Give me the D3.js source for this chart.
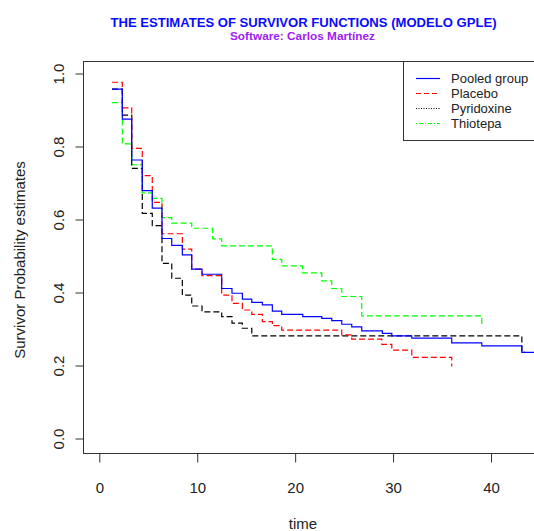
<!DOCTYPE html>
<html>
  <head>
    <script src="https://d3js.org/d3.v7.min.js"></script>
    <style type="text/css">
body {
  margin: 0;
  background: #fff;
}
svg {
  font-family: "Liberation Sans", Arial, sans-serif;
}
.axis text {
  fill: #222;
  font-size: 15px;
}
    </style>
  </head>
  <body>
    <script type="text/javascript">

var width = 534,
    height = 531;

// series (time, survivor estimate)
var pooledTime = [1.30, 2.35, 3.31, 4.39, 5.41, 6.40, 7.40, 8.48, 9.44, 10.49, 12.50, 13.55, 14.61, 15.57, 16.65, 17.67, 18.63, 20.78, 22.72, 23.74, 24.76, 25.78, 26.80, 28.91, 29.87, 31.91, 35.99, 39.06, 43.15, 44.8];
var pooledSurv = [0.957, 0.875, 0.763, 0.679, 0.631, 0.548, 0.529, 0.503, 0.464, 0.450, 0.411, 0.398, 0.382, 0.373, 0.366, 0.349, 0.340, 0.334, 0.329, 0.323, 0.313, 0.306, 0.295, 0.288, 0.281, 0.275, 0.262, 0.254, 0.236, 0.236];

var placeboTime = [1.30, 2.35, 3.31, 4.39, 5.41, 6.40, 8.48, 9.44, 10.49, 12.50, 13.55, 14.61, 15.57, 16.65, 17.67, 18.63, 24.76, 25.78, 28.85, 29.87, 31.91, 35.99];
var placeboSurv = [0.976, 0.906, 0.795, 0.720, 0.647, 0.561, 0.519, 0.464, 0.446, 0.393, 0.370, 0.352, 0.340, 0.320, 0.309, 0.297, 0.284, 0.272, 0.258, 0.242, 0.222, 0.197];

var pyridoxineTime = [1.30, 2.35, 3.31, 4.39, 5.41, 6.40, 7.40, 8.48, 9.44, 10.49, 12.50, 13.55, 14.61, 15.57, 43.15, 43.5];
var pyridoxineSurv = [0.957, 0.886, 0.740, 0.617, 0.583, 0.480, 0.439, 0.393, 0.363, 0.347, 0.334, 0.316, 0.302, 0.281, 0.236, 0.236];

var thiotepaTime = [1.30, 2.35, 3.31, 4.39, 5.41, 6.40, 7.40, 9.44, 11.58, 12.50, 17.67, 18.63, 20.74, 22.72, 23.74, 24.76, 26.80, 39.06];
var thiotepaSurv = [0.920, 0.807, 0.750, 0.673, 0.658, 0.605, 0.590, 0.576, 0.547, 0.528, 0.491, 0.473, 0.454, 0.432, 0.411, 0.389, 0.336, 0.308];

var groupNames = ["Pooled group", "Placebo", "Pyridoxine", "Thiotepa"];
var groupColors = ["#0000ff", "#ff0000", "#000000", "#00ff00"];
var xTicks = [0, 10, 20, 30, 40];
var yTicks = [0.0, 0.2, 0.4, 0.6, 0.8, 1.0];

var series = [
  {name: groupNames[0], color: groupColors[0], t: pooledTime, s: pooledSurv, dash: "none", legDash: "none"},
  {name: groupNames[1], color: groupColors[1], t: placeboTime, s: placeboSurv, dash: "6,3", legDash: "5,3"},
  {name: groupNames[2], color: groupColors[2], t: pyridoxineTime, s: pyridoxineSurv, dash: "6,3", legDash: "1,1.5"},
  {name: groupNames[3], color: groupColors[3], t: thiotepaTime, s: thiotepaSurv, dash: "6,3", legDash: "1,2,4,2"}
];

var box = {left: 83.5, top: 61.5, bottom: 453.5, right: 560};

var x = d3.scaleLinear().domain([0, 40]).range([99.3, 491]);
var y = d3.scaleLinear().domain([0, 1]).range([438.5, 73.5]);

var svg = d3.select("body").append("svg")
    .attr("width", width)
    .attr("height", height);

svg.append("defs").append("clipPath").attr("id", "plotclip")
  .append("rect")
    .attr("x", box.left).attr("y", box.top)
    .attr("width", box.right - box.left).attr("height", box.bottom - box.top);

// titles
svg.append("text")
    .attr("x", 303.5).attr("y", 27)
    .attr("text-anchor", "middle")
    .attr("textLength", 386).attr("lengthAdjust", "spacingAndGlyphs")
    .style("font-size", "13px").style("font-weight", "bold")
    .style("fill", "#0a0aff")
    .text("THE ESTIMATES OF SURVIVOR FUNCTIONS (MODELO GPLE)");

svg.append("text")
    .attr("x", 302.5).attr("y", 40)
    .attr("text-anchor", "middle")
    .attr("textLength", 145).attr("lengthAdjust", "spacingAndGlyphs")
    .style("font-size", "11px").style("font-weight", "bold")
    .style("fill", "#a020f0")
    .text("Software: Carlos Martínez");

// curves
var line = d3.line()
    .x(function(d) { return x(d[0]); })
    .y(function(d) { return y(d[1]); })
    .curve(d3.curveStepAfter);

var plotg = svg.append("g").attr("clip-path", "url(#plotclip)");

series.slice().reverse().forEach(function(sr) {
  var pts = sr.t.map(function(t, i) { return [t, sr.s[i]]; });
  plotg.append("path")
      .attr("d", line(pts))
      .style("fill", "none")
      .style("stroke", sr.color)
      .style("stroke-width", 1.2)
      .style("stroke-dasharray", sr.dash);
});

// box
svg.append("rect")
    .attr("x", box.left).attr("y", box.top)
    .attr("width", box.right - box.left).attr("height", box.bottom - box.top)
    .attr("fill", "none").attr("stroke", "#333").attr("stroke-width", 1);

// axes
var xAxis = svg.append("g")
    .attr("class", "axis")
    .attr("transform", "translate(0," + box.bottom + ")")
    .call(d3.axisBottom(x).tickValues(xTicks).tickSize(9).tickFormat(d3.format("d")));
xAxis.select(".domain").remove();
xAxis.selectAll("line").attr("stroke", "#333");
xAxis.selectAll("text").attr("dy", null).attr("y", 39);

var yAxis = svg.append("g")
    .attr("class", "axis")
    .attr("transform", "translate(" + box.left + ",0)")
    .call(d3.axisLeft(y).tickValues(yTicks).tickSize(8).tickFormat(d3.format(".1f")));
yAxis.select(".domain").remove();
yAxis.selectAll("line").attr("stroke", "#333");
// R style: tick labels parallel to the axis
yAxis.selectAll("text")
    .attr("x", null).attr("y", null).attr("dy", null)
    .attr("text-anchor", "middle")
    .attr("transform", "translate(-20,0) rotate(-90)");

// axis titles
svg.append("text")
    .attr("x", 303).attr("y", 529)
    .attr("text-anchor", "middle")
    .style("font-size", "15px").style("fill", "#222")
    .text("time");

svg.append("text")
    .attr("transform", "translate(25,260) rotate(-90)")
    .attr("text-anchor", "middle")
    .style("font-size", "15px").style("fill", "#222")
    .text("Survivor Probability estimates");

// legend
var leg = svg.append("g");
leg.append("rect")
    .attr("x", 403.5).attr("y", 61.5)
    .attr("width", 200).attr("height", 79)
    .attr("fill", "#fff").attr("stroke", "#333");

var legY = [78.5, 93.5, 108.5, 123.5];
series.forEach(function(sr, i) {
  leg.append("path")
      .attr("d", "M416," + legY[i] + "H440")
      .style("fill", "none")
      .style("stroke", sr.color)
      .style("stroke-width", 1.2)
      .style("stroke-dasharray", sr.legDash);
  leg.append("text")
      .attr("x", 451).attr("y", legY[i] + 4.5)
      .style("font-size", "13px").style("fill", "#222")
      .text(sr.name);
});

    </script>
  </body>
</html>
